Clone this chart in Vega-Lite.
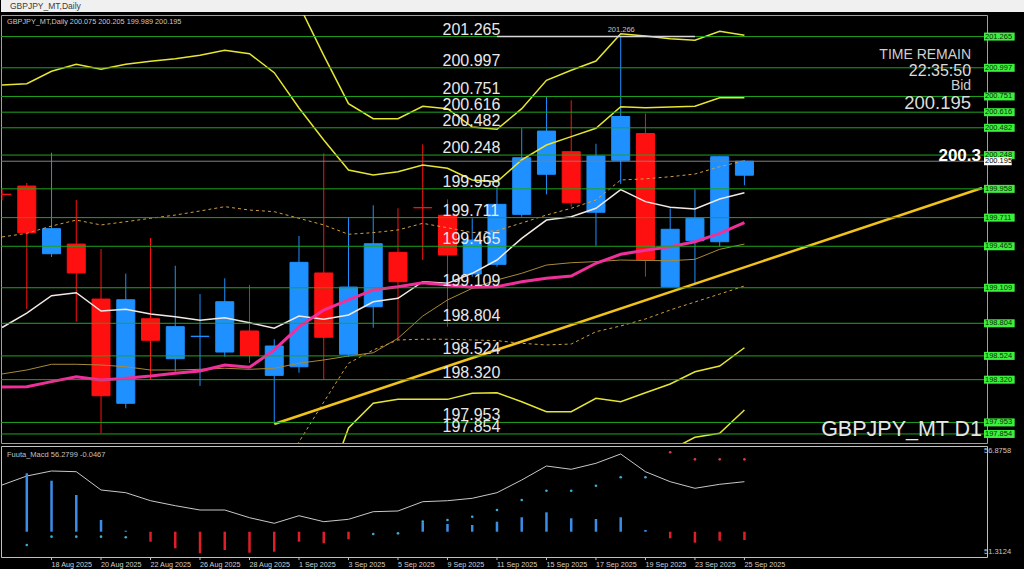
{
  "$schema": "https://vega.github.io/schema/vega-lite/v6.json",
  "background": "#000000",
  "padding": {"left": 0, "top": 0, "right": 0, "bottom": 0},
  "bounds": "flush",
  "spacing": 3,
  "config": {"view": {"stroke": null}},
  "datasets": {
    "bars": [
      {"i":0,"date":"14 Aug 2025","open":199.912,"high":199.960,"low":199.860,"close":199.909,"maFast":198.768,"maMid":198.257,"maSlow":198.369,"envUp":199.545,"bbUp2":200.849,"osc":54.921},
      {"i":1,"date":"15 Aug 2025","open":199.982,"high":200.008,"low":198.927,"close":199.582,"maFast":198.892,"maMid":198.260,"maSlow":198.403,"envUp":199.576,"bbUp2":200.861,"hist":55.508,"sig":51.914,"osc":55.372},
      {"i":2,"date":"18 Aug 2025","open":199.401,"high":200.268,"low":199.373,"close":199.616,"maFast":199.041,"maMid":198.303,"maSlow":198.452,"envUp":199.639,"bbUp2":200.967,"hist":55.137,"sig":52.330,"osc":55.623},
      {"i":3,"date":"19 Aug 2025","open":199.484,"high":199.862,"low":198.818,"close":199.236,"maFast":199.066,"maMid":198.345,"maSlow":198.452,"envUp":199.690,"bbUp2":201.027,"hist":54.420,"sig":52.330,"osc":55.588},
      {"i":4,"date":"20 Aug 2025","open":199.012,"high":199.442,"low":197.862,"close":198.182,"maFast":198.909,"maMid":198.317,"maSlow":198.446,"envUp":199.648,"bbUp2":200.984,"hist":53.167,"sig":52.330,"osc":54.671},
      {"i":5,"date":"21 Aug 2025","open":198.117,"high":199.230,"low":198.074,"close":199.006,"maFast":198.924,"maMid":198.332,"maSlow":198.431,"envUp":199.676,"bbUp2":201.027,"hist":52.631,"sig":52.300,"osc":54.535},
      {"i":6,"date":"22 Aug 2025","open":198.843,"high":199.536,"low":198.317,"close":198.658,"maFast":198.884,"maMid":198.351,"maSlow":198.403,"envUp":199.705,"bbUp2":201.053,"hist":52.079,"osc":54.134},
      {"i":7,"date":"25 Aug 2025","open":198.500,"high":199.298,"low":198.388,"close":198.775,"maFast":198.860,"maMid":198.375,"maSlow":198.403,"envUp":199.733,"bbUp2":201.075,"hist":51.748,"osc":53.884},
      {"i":8,"date":"26 Aug 2025","open":198.690,"high":199.055,"low":198.266,"close":198.693,"maFast":198.830,"maMid":198.394,"maSlow":198.409,"envUp":199.768,"bbUp2":201.104,"hist":51.498,"osc":53.668},
      {"i":9,"date":"27 Aug 2025","open":198.557,"high":199.190,"low":198.517,"close":198.989,"maFast":198.852,"maMid":198.446,"maSlow":198.418,"envUp":199.805,"bbUp2":201.147,"hist":51.663,"osc":53.668},
      {"i":10,"date":"28 Aug 2025","open":198.738,"high":199.133,"low":198.463,"close":198.529,"maFast":198.809,"maMid":198.426,"maSlow":198.409,"envUp":199.776,"bbUp2":201.118,"hist":51.528,"osc":53.282},
      {"i":11,"date":"29 Aug 2025","open":198.357,"high":198.667,"low":197.939,"close":198.609,"maFast":198.761,"maMid":198.575,"maSlow":198.418,"envUp":199.762,"envDn":197.459,"bbUp2":200.955,"hist":51.578,"osc":53.002},
      {"i":12,"date":"1 Sep 2025","open":198.431,"high":199.553,"low":198.380,"close":199.327,"maFast":198.866,"maMid":198.775,"maSlow":198.461,"envUp":199.705,"envDn":197.785,"bbUp2":200.652,"bbUp3":201.536,"hist":52.079,"osc":53.382},
      {"i":13,"date":"2 Sep 2025","open":199.236,"high":200.263,"low":198.323,"close":198.684,"maFast":198.838,"maMid":198.918,"maSlow":198.489,"envUp":199.648,"envDn":198.128,"bbUp2":200.377,"bbUp3":201.104,"bbDn2":197.321,"hist":51.999,"osc":53.082},
      {"i":14,"date":"3 Sep 2025","open":198.538,"high":199.714,"low":198.517,"close":199.115,"maFast":198.875,"maMid":199.004,"maSlow":198.523,"envUp":199.568,"envDn":198.461,"bbUp2":200.120,"bbUp3":200.689,"bbDn2":197.905,"hist":52.200,"osc":53.202},
      {"i":15,"date":"4 Sep 2025","open":198.946,"high":199.817,"low":198.766,"close":199.487,"maFast":198.989,"maMid":199.090,"maSlow":198.551,"envUp":199.582,"envDn":198.575,"bbUp2":200.077,"bbUp3":200.560,"bbDn2":198.117,"sig":52.465,"osc":53.583},
      {"i":16,"date":"5 Sep 2025","open":199.413,"high":199.791,"low":198.661,"close":199.161,"maFast":199.018,"maMid":199.118,"maSlow":198.675,"envUp":199.605,"envDn":198.661,"bbUp2":200.105,"bbUp3":200.560,"bbDn2":198.151,"sig":52.500,"osc":53.618},
      {"i":17,"date":"8 Sep 2025","open":199.798,"high":200.340,"low":199.347,"close":199.795,"maFast":199.161,"maMid":199.152,"maSlow":198.866,"envUp":199.662,"envDn":198.667,"bbUp2":200.163,"bbUp3":200.667,"bbDn2":198.151,"hist":53.032,"sig":53.082,"osc":54.084},
      {"i":18,"date":"9 Sep 2025","open":199.731,"high":199.868,"low":198.775,"close":199.390,"maFast":199.147,"maMid":199.133,"maSlow":199.004,"envUp":199.624,"envDn":198.667,"bbUp2":200.134,"bbUp3":200.646,"bbDn2":198.151,"bbDn3":197.699,"hist":52.966,"sig":53.167,"osc":54.134},
      {"i":19,"date":"10 Sep 2025","open":199.227,"high":199.705,"low":199.204,"close":199.519,"maFast":199.233,"maMid":199.113,"maSlow":199.104,"envUp":199.582,"envDn":198.661,"bbUp2":200.034,"bbUp3":200.489,"bbDn2":198.203,"bbDn3":197.768,"hist":52.916,"sig":53.332,"osc":54.254},
      {"i":20,"date":"11 Sep 2025","open":199.310,"high":199.976,"low":199.290,"close":199.825,"maFast":199.347,"maMid":199.118,"maSlow":199.176,"envUp":199.599,"envDn":198.655,"bbUp2":200.019,"bbUp3":200.469,"bbDn2":198.208,"bbDn3":197.768,"hist":53.082,"sig":53.668,"osc":54.535},
      {"i":21,"date":"12 Sep 2025","open":199.739,"high":200.478,"low":199.719,"close":200.225,"maFast":199.533,"maMid":199.161,"maSlow":199.233,"envUp":199.665,"envDn":198.632,"bbUp2":200.206,"bbUp3":200.646,"bbDn2":198.131,"bbDn3":197.673,"hist":53.302,"sig":54.169,"osc":55.172},
      {"i":22,"date":"15 Sep 2025","open":200.083,"high":200.746,"low":199.911,"close":200.454,"maFast":199.690,"maMid":199.190,"maSlow":199.304,"envUp":199.733,"envDn":198.618,"bbUp2":200.334,"bbUp3":200.890,"bbDn2":198.045,"bbDn3":197.587,"hist":53.553,"sig":54.635,"osc":55.873},
      {"i":23,"date":"16 Sep 2025","open":200.277,"high":200.718,"low":199.805,"close":199.839,"maFast":199.719,"maMid":199.210,"maSlow":199.324,"envUp":199.791,"envDn":198.626,"bbUp2":200.406,"bbUp3":200.976,"bbDn2":198.045,"bbDn3":197.587,"hist":53.252,"sig":54.635,"osc":55.708},
      {"i":24,"date":"17 Sep 2025","open":199.757,"high":200.345,"low":199.470,"close":200.240,"maFast":199.791,"maMid":199.319,"maSlow":199.333,"envUp":199.862,"envDn":198.732,"bbUp2":200.478,"bbUp3":201.055,"bbDn2":198.160,"bbDn3":197.673,"hist":53.217,"sig":54.886,"osc":56.009},
      {"i":25,"date":"18 Sep 2025","open":200.203,"high":201.266,"low":200.000,"close":200.579,"maFast":199.952,"maMid":199.396,"maSlow":199.347,"envUp":200.034,"envDn":198.781,"bbUp2":200.663,"bbUp3":201.290,"bbDn2":198.131,"bbDn3":197.648,"hist":53.302,"sig":55.307,"osc":56.475},
      {"i":26,"date":"19 Sep 2025","open":200.433,"high":200.606,"low":199.204,"close":199.351,"maFast":199.848,"maMid":199.430,"maSlow":199.343,"envUp":200.044,"envDn":198.841,"bbUp2":200.655,"bbUp3":201.270,"bbDn2":198.208,"bbDn3":197.699,"hist":52.666,"sig":55.307,"osc":55.588},
      {"i":27,"date":"22 Sep 2025","open":199.118,"high":199.791,"low":199.112,"close":199.611,"maFast":199.800,"maMid":199.461,"maSlow":199.341,"envUp":200.062,"envDn":198.918,"bbUp2":200.661,"bbUp3":201.247,"bbDn2":198.283,"bbDn3":197.716,"hist":52.250,"sig":56.560,"osc":55.087},
      {"i":28,"date":"23 Sep 2025","open":199.513,"high":199.954,"low":199.147,"close":199.705,"maFast":199.785,"maMid":199.504,"maSlow":199.353,"envUp":200.085,"envDn":198.987,"bbUp2":200.667,"bbUp3":201.233,"bbDn2":198.388,"bbDn3":197.825,"hist":52.029,"sig":56.209,"osc":54.756},
      {"i":29,"date":"24 Sep 2025","open":199.504,"high":200.240,"low":199.461,"close":200.234,"maFast":199.871,"maMid":199.576,"maSlow":199.439,"envUp":200.148,"envDn":199.055,"bbUp2":200.740,"bbUp3":201.310,"bbDn2":198.437,"bbDn3":197.860,"hist":52.129,"sig":56.209,"osc":54.956},
      {"i":30,"date":"25 Sep 2025","open":200.075,"high":200.205,"low":199.989,"close":200.195,"maFast":199.925,"maMid":199.667,"maSlow":199.484,"envUp":200.200,"envDn":199.124,"bbUp2":200.740,"bbUp3":201.276,"bbDn2":198.594,"bbDn3":198.060,"hist":52.165,"sig":56.209,"osc":55.087}
    ],
    "levels": [
      {"price":201.265},{"price":200.997},{"price":200.751},{"price":200.616},{"price":200.482},
      {"price":200.248},{"price":199.958},{"price":199.711},{"price":199.465},{"price":199.109},
      {"price":198.804},{"price":198.524},{"price":198.320},{"price":197.953},{"price":197.854}
    ]
  },
  "vconcat": [
    {
      "width": 1024,
      "height": 12,
      "view": {"fill": "#f0f0f0", "stroke": null},
      "data": {"values": [{"label": "GBPJPY_MT,Daily"}]},
      "mark": {"type": "text", "align": "left", "baseline": "middle", "dx": 9, "font": "Liberation Sans", "fontSize": 8.5, "color": "#3c3c3c"},
      "encoding": {
        "x": {"field": "label", "type": "nominal", "scale": {"type": "point", "padding": 0, "align": 0}, "axis": null},
        "text": {"field": "label"}
      }
    },
    {
      "width": 986,
      "height": 428,
      "view": {"fill": "#000000", "stroke": "#a0a0a0"},
      "layer": [
        {
          "data": {"name": "bars"},
          "mark": {"type": "rule", "clip": true, "strokeWidth": 1},
          "encoding": {
            "x": {"field": "i", "type": "quantitative", "scale": {"domain": [0.16, 39.6], "nice": false, "zero": false}, "axis": null},
            "y": {"field": "low", "type": "quantitative", "scale": {"domain": [197.7764, 201.4502], "nice": false, "zero": false},
              "axis": {"orient": "right", "title": null, "values": [201.33, 201.105, 200.885, 200.665, 200.445, 200.225, 199.98, 199.78, 199.555, 199.335, 199.115, 198.895, 198.67, 198.45, 198.23, 198.005, 197.785],
                "format": ".3f", "labelFont": "Liberation Sans", "labelFontSize": 7.5, "labelColor": "#c8c8c8", "tickColor": "#a0a0a0", "tickSize": 3, "labelPadding": 1, "domain": false, "grid": false, "labelOverlap": false}},
            "y2": {"field": "high"},
            "color": {"condition": {"test": "datum.close >= datum.open", "value": "#1e90ff"}, "value": "#ff1010"}
          }
        },
        {
          "data": {"name": "bars"},
          "mark": {"type": "bar", "clip": true, "size": 18, "strokeWidth": 1},
          "encoding": {
            "x": {"field": "i", "type": "quantitative", "axis": null},
            "y": {"field": "open", "type": "quantitative", "axis": null},
            "y2": {"field": "close"},
            "color": {"condition": {"test": "datum.close >= datum.open", "value": "#1e90ff"}, "value": "#ff1010"},
            "stroke": {"condition": {"test": "datum.close >= datum.open", "value": "#1e90ff"}, "value": "#ff1010"}
          }
        },
        {
          "data": {"name": "bars"},
          "mark": {"type": "line", "clip": true, "color": "#d0a040", "strokeWidth": 1, "strokeDash": [3, 3]},
          "encoding": {"x": {"field": "i", "type": "quantitative", "axis": null}, "y": {"field": "envUp", "type": "quantitative", "axis": null}}
        },
        {
          "data": {"name": "bars"},
          "mark": {"type": "line", "clip": true, "color": "#d0a040", "strokeWidth": 1, "strokeDash": [3, 3]},
          "encoding": {"x": {"field": "i", "type": "quantitative", "axis": null}, "y": {"field": "envDn", "type": "quantitative", "axis": null}}
        },
        {
          "data": {"name": "bars"},
          "mark": {"type": "line", "clip": true, "color": "#a88a35", "strokeWidth": 1},
          "encoding": {"x": {"field": "i", "type": "quantitative", "axis": null}, "y": {"field": "maSlow", "type": "quantitative", "axis": null}}
        },
        {
          "data": {"name": "bars"},
          "mark": {"type": "line", "clip": true, "color": "#e6e632", "strokeWidth": 1.5},
          "encoding": {"x": {"field": "i", "type": "quantitative", "axis": null}, "y": {"field": "bbUp2", "type": "quantitative", "axis": null}}
        },
        {
          "data": {"name": "bars"},
          "mark": {"type": "line", "clip": true, "color": "#e6e632", "strokeWidth": 1.5},
          "encoding": {"x": {"field": "i", "type": "quantitative", "axis": null}, "y": {"field": "bbUp3", "type": "quantitative", "axis": null}}
        },
        {
          "data": {"name": "bars"},
          "mark": {"type": "line", "clip": true, "color": "#e6e632", "strokeWidth": 1.5},
          "encoding": {"x": {"field": "i", "type": "quantitative", "axis": null}, "y": {"field": "bbDn2", "type": "quantitative", "axis": null}}
        },
        {
          "data": {"name": "bars"},
          "mark": {"type": "line", "clip": true, "color": "#e6e632", "strokeWidth": 1.5},
          "encoding": {"x": {"field": "i", "type": "quantitative", "axis": null}, "y": {"field": "bbDn3", "type": "quantitative", "axis": null}}
        },
        {
          "data": {"name": "bars"},
          "mark": {"type": "line", "clip": true, "color": "#f2e8e4", "strokeWidth": 1.5},
          "encoding": {"x": {"field": "i", "type": "quantitative", "axis": null}, "y": {"field": "maFast", "type": "quantitative", "axis": null}}
        },
        {
          "data": {"name": "bars"},
          "mark": {"type": "line", "clip": true, "color": "#f0309a", "strokeWidth": 3},
          "encoding": {"x": {"field": "i", "type": "quantitative", "axis": null}, "y": {"field": "maMid", "type": "quantitative", "axis": null}}
        },
        {
          "data": {"values": [{"i": 11, "price": 197.939}, {"i": 39.6, "price": 199.965}]},
          "mark": {"type": "line", "clip": true, "color": "#f2c218", "strokeWidth": 2.5},
          "encoding": {"x": {"field": "i", "type": "quantitative", "axis": null}, "y": {"field": "price", "type": "quantitative", "axis": null}}
        },
        {
          "data": {"values": [{"price": 200.195}]},
          "mark": {"type": "rule", "color": "#808080", "strokeWidth": 1},
          "encoding": {"y": {"field": "price", "type": "quantitative", "axis": null}}
        },
        {
          "data": {"name": "levels"},
          "mark": {"type": "rule", "color": "#1fa51f", "strokeWidth": 1},
          "encoding": {"y": {"field": "price", "type": "quantitative", "axis": null}}
        },
        {
          "data": {"values": [{"from": 20, "to": 28, "price": 201.266}]},
          "mark": {"type": "rule", "color": "#d8d8d8", "strokeWidth": 1.5},
          "encoding": {"x": {"field": "from", "type": "quantitative", "axis": null}, "x2": {"field": "to"}, "y": {"field": "price", "type": "quantitative", "axis": null}}
        },
        {
          "data": {"name": "levels"},
          "mark": {"type": "text", "align": "left", "baseline": "alphabetic", "dy": -2, "font": "Liberation Sans", "fontSize": 16, "color": "#e8e8e8"},
          "encoding": {
            "x": {"datum": 17.8, "type": "quantitative", "axis": null},
            "y": {"field": "price", "type": "quantitative", "axis": null},
            "text": {"field": "price", "type": "quantitative", "format": ".3f"}
          }
        },
        {
          "data": {"values": [{"label": "201.266", "price": 201.266}]},
          "mark": {"type": "text", "align": "center", "baseline": "bottom", "dy": -2, "font": "Liberation Sans", "fontSize": 7.5, "color": "#c0c0c0"},
          "encoding": {
            "x": {"datum": 25.02, "type": "quantitative", "axis": null},
            "y": {"field": "price", "type": "quantitative", "axis": null},
            "text": {"field": "label"}
          }
        },
        {
          "data": {"values": [{"t": "GBPJPY_MT,Daily  200.075 200.205 199.989 200.195"}]},
          "mark": {"type": "text", "align": "left", "baseline": "middle", "font": "Liberation Sans", "fontSize": 7.3, "color": "#c8c8c8"},
          "encoding": {"x": {"datum": 0.2, "type": "quantitative", "axis": null}, "y": {"datum": 201.386, "type": "quantitative", "axis": null}, "text": {"field": "t"}}
        },
        {
          "data": {"values": [{"t": "TIME REMAIN"}]},
          "mark": {"type": "text", "align": "right", "baseline": "middle", "font": "Liberation Sans", "fontSize": 14, "color": "#cfcfcf"},
          "encoding": {"x": {"datum": 39.16, "type": "quantitative", "axis": null}, "y": {"datum": 201.11, "type": "quantitative", "axis": null}, "text": {"field": "t"}}
        },
        {
          "data": {"values": [{"t": "22:35:50"}]},
          "mark": {"type": "text", "align": "right", "baseline": "middle", "font": "Liberation Sans", "fontSize": 16, "color": "#dcdcdc"},
          "encoding": {"x": {"datum": 39.16, "type": "quantitative", "axis": null}, "y": {"datum": 200.968, "type": "quantitative", "axis": null}, "text": {"field": "t"}}
        },
        {
          "data": {"values": [{"t": "Bid"}]},
          "mark": {"type": "text", "align": "right", "baseline": "middle", "font": "Liberation Sans", "fontSize": 14, "color": "#cfcfcf"},
          "encoding": {"x": {"datum": 39.16, "type": "quantitative", "axis": null}, "y": {"datum": 200.838, "type": "quantitative", "axis": null}, "text": {"field": "t"}}
        },
        {
          "data": {"values": [{"t": "200.195"}]},
          "mark": {"type": "text", "align": "right", "baseline": "middle", "font": "Liberation Sans", "fontSize": 18.5, "color": "#dcdcdc"},
          "encoding": {"x": {"datum": 39.16, "type": "quantitative", "axis": null}, "y": {"datum": 200.695, "type": "quantitative", "axis": null}, "text": {"field": "t"}}
        },
        {
          "data": {"values": [{"t": "200.3"}]},
          "mark": {"type": "text", "align": "left", "baseline": "middle", "font": "Liberation Sans", "fontSize": 17, "fontWeight": "bold", "color": "#ffffff", "clip": true},
          "encoding": {"x": {"datum": 37.84, "type": "quantitative", "axis": null}, "y": {"datum": 200.236, "type": "quantitative", "axis": null}, "text": {"field": "t"}}
        },
        {
          "data": {"values": [{"t": "GBPJPY_MT D1"}]},
          "mark": {"type": "text", "align": "left", "baseline": "middle", "font": "Liberation Sans", "fontSize": 21.5, "color": "#e6e6e6"},
          "encoding": {"x": {"datum": 33.1, "type": "quantitative", "axis": null}, "y": {"datum": 197.888, "type": "quantitative", "axis": null}, "text": {"field": "t"}}
        },
        {
          "data": {"name": "levels"},
          "mark": {"type": "rule", "color": "#3ef03e", "strokeWidth": 8, "clip": false},
          "encoding": {"x": {"datum": 39.68, "type": "quantitative", "axis": null}, "x2": {"datum": 40.92}, "y": {"field": "price", "type": "quantitative", "axis": null}}
        },
        {
          "data": {"name": "levels"},
          "mark": {"type": "text", "align": "left", "baseline": "middle", "font": "Liberation Sans", "fontSize": 7.5, "color": "#0b2e0b", "clip": false},
          "encoding": {"x": {"datum": 39.72, "type": "quantitative", "axis": null}, "y": {"field": "price", "type": "quantitative", "axis": null}, "text": {"field": "price", "type": "quantitative", "format": ".3f"}}
        },
        {
          "data": {"values": [{"price": 200.195}]},
          "mark": {"type": "rule", "color": "#ffffff", "strokeWidth": 8, "clip": false},
          "encoding": {"x": {"datum": 39.68, "type": "quantitative", "axis": null}, "x2": {"datum": 40.8}, "y": {"field": "price", "type": "quantitative", "axis": null}}
        },
        {
          "data": {"values": [{"price": 200.195}]},
          "mark": {"type": "text", "align": "left", "baseline": "middle", "font": "Liberation Sans", "fontSize": 7.5, "color": "#000000", "clip": false},
          "encoding": {"x": {"datum": 39.72, "type": "quantitative", "axis": null}, "y": {"field": "price", "type": "quantitative", "axis": null}, "text": {"field": "price", "type": "quantitative", "format": ".3f"}}
        }
      ]
    },
    {
      "width": 986,
      "height": 111,
      "view": {"fill": "#000000", "stroke": "#c0c0c0"},
      "layer": [
        {
          "data": {"name": "bars"},
          "mark": {"type": "line", "clip": true, "color": "#c8c8c8", "strokeWidth": 1},
          "encoding": {
            "x": {"field": "i", "type": "quantitative", "scale": {"domain": [0.16, 39.6], "nice": false, "zero": false}, "axis": null},
            "y": {"field": "osc", "type": "quantitative", "scale": {"domain": [51.3124, 56.8758], "nice": false, "zero": false}, "axis": null}
          }
        },
        {
          "data": {"name": "bars"},
          "mark": {"type": "bar", "clip": true, "size": 2.5},
          "encoding": {
            "x": {"field": "i", "type": "quantitative", "axis": null},
            "y": {"field": "hist", "type": "quantitative", "axis": null},
            "y2": {"datum": 52.58},
            "color": {"condition": {"test": "datum.hist >= 52.58", "value": "#3a8ee8"}, "value": "#e01e28"}
          }
        },
        {
          "data": {"name": "bars"},
          "mark": {"type": "circle", "clip": true, "size": 7, "opacity": 1},
          "encoding": {
            "x": {"field": "i", "type": "quantitative", "axis": null},
            "y": {"field": "sig", "type": "quantitative", "axis": null},
            "color": {"condition": {"test": "datum.hist != null && datum.hist < 52.58", "value": "#d83a4a"}, "value": "#3aaed0"}
          }
        },
        {
          "data": {"values": [{"t": "Fuuta_Macd 56.2799  -0.0467"}]},
          "mark": {"type": "text", "align": "left", "baseline": "middle", "font": "Liberation Sans", "fontSize": 7.5, "color": "#c0c0c0"},
          "encoding": {"x": {"datum": 0.2, "type": "quantitative", "axis": null}, "y": {"datum": 56.425, "type": "quantitative", "axis": null}, "text": {"field": "t"}}
        },
        {
          "data": {"values": [{"v": 56.8758}]},
          "mark": {"type": "text", "align": "left", "baseline": "top", "dy": 1, "font": "Liberation Sans", "fontSize": 7.5, "color": "#c8c8c8", "clip": false},
          "encoding": {"x": {"datum": 39.68, "type": "quantitative", "axis": null}, "y": {"field": "v", "type": "quantitative", "axis": null}, "text": {"field": "v", "type": "quantitative", "format": ".4f"}}
        },
        {
          "data": {"values": [{"v": 51.3124}]},
          "mark": {"type": "text", "align": "left", "baseline": "bottom", "dy": -1, "font": "Liberation Sans", "fontSize": 7.5, "color": "#c8c8c8", "clip": false},
          "encoding": {"x": {"datum": 39.68, "type": "quantitative", "axis": null}, "y": {"field": "v", "type": "quantitative", "axis": null}, "text": {"field": "v", "type": "quantitative", "format": ".4f"}}
        },
        {
          "data": {"name": "bars"},
          "transform": [{"filter": "datum.i > 0 && datum.i % 2 == 0"}],
          "mark": {"type": "rule", "color": "#c0c0c0", "strokeWidth": 1, "clip": false},
          "encoding": {"x": {"field": "i", "type": "quantitative", "axis": null}, "y": {"datum": 51.3124, "type": "quantitative", "axis": null}, "y2": {"datum": 51.16}}
        },
        {
          "data": {"name": "bars"},
          "transform": [{"filter": "datum.i > 0 && datum.i % 2 == 0"}],
          "mark": {"type": "text", "align": "left", "baseline": "top", "dy": 4, "font": "Liberation Sans", "fontSize": 7.2, "color": "#d0d0d0", "clip": false},
          "encoding": {"x": {"field": "i", "type": "quantitative", "axis": null}, "y": {"datum": 51.3124, "type": "quantitative", "axis": null}, "text": {"field": "date"}}
        }
      ]
    }
  ]
}
